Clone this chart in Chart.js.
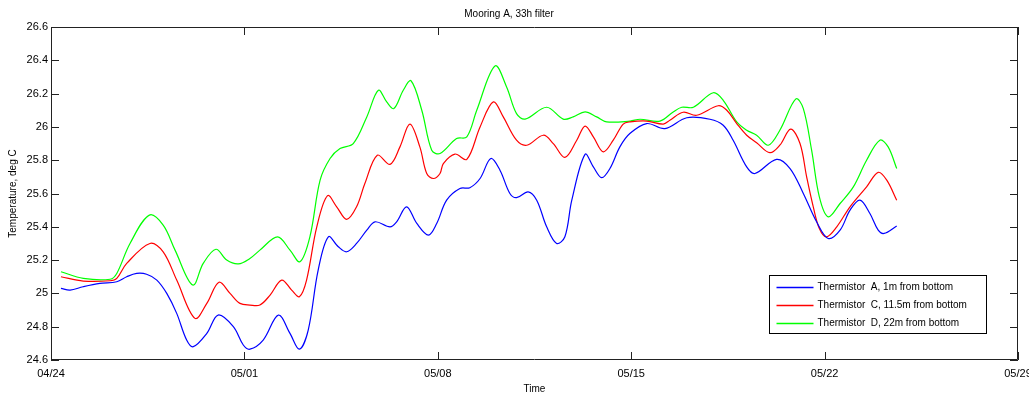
<!DOCTYPE html>
<html>
<head>
<meta charset="utf-8">
<script src="https://cdn.jsdelivr.net/npm/chart.js@4"></script>
<style>
  html, body { margin: 0; padding: 0; background: #fff; }
  #wrap { width: 1029px; height: 393px; }
</style>
</head>
<body>
<div id="wrap"><canvas id="tempChart" width="1029" height="393"></canvas></div>
<script>
// x values are days since 04/24
const tickLabels = ['04/24', '05/01', '05/08', '05/15', '05/22', '05/29'];

const blueDays = [0.36,0.69,1.16,1.77,2.38,2.74,3.10,3.46,3.83,4.19,4.55,4.91,5.15,5.64,6.05,6.60,6.96,7.20,7.68,8.23,8.65,8.99,9.31,9.67,10.04,10.40,10.70,11.06,11.43,11.73,12.27,12.51,12.87,13.24,13.66,13.96,14.32,14.80,15.16,15.53,15.92,16.25,16.61,16.85,17.27,17.58,17.94,18.30,18.60,18.85,19.33,19.63,19.93,20.23,20.59,20.95,21.56,22.22,23.01,23.85,24.33,24.69,25.18,25.48,26.26,26.75,27.23,27.71,28.13,28.56,28.92,29.28,29.64,29.94,30.15,30.61];
const blueTemps = [25.03,25.02,25.04,25.06,25.07,25.10,25.12,25.115,25.08,25.00,24.88,24.72,24.68,24.76,24.87,24.80,24.69,24.665,24.72,24.87,24.76,24.665,24.78,25.14,25.34,25.28,25.25,25.30,25.38,25.43,25.40,25.43,25.52,25.42,25.35,25.42,25.56,25.63,25.635,25.69,25.81,25.74,25.60,25.575,25.61,25.56,25.40,25.30,25.34,25.56,25.835,25.76,25.695,25.75,25.88,25.96,26.02,25.99,26.055,26.046,26.01,25.92,25.76,25.72,25.805,25.75,25.60,25.43,25.33,25.38,25.50,25.56,25.48,25.38,25.36,25.405];

const redDays = [0.36,1.17,2.14,2.38,2.74,3.58,4.06,4.55,5.21,5.64,6.08,6.48,6.84,7.20,7.56,7.93,8.35,8.71,8.99,9.25,9.62,10.01,10.34,10.70,11.06,11.36,11.81,12.27,12.63,12.99,13.35,13.60,13.84,14.08,14.20,14.62,15.05,15.53,16.01,16.37,16.85,17.22,17.82,18.18,18.60,19.03,19.33,19.63,19.99,20.35,20.71,20.96,21.56,22.16,22.40,22.88,23.37,24.15,24.46,24.82,25.18,25.54,26.02,26.38,26.77,27.11,27.35,27.59,27.81,28.07,28.44,28.92,29.52,29.94,30.25,30.61];
const redTemps = [25.10,25.074,25.076,25.09,25.18,25.30,25.25,25.08,24.85,24.94,25.067,25.00,24.94,24.93,24.93,24.99,25.08,25.02,24.98,25.08,25.40,25.587,25.52,25.445,25.52,25.66,25.83,25.775,25.88,26.017,25.88,25.72,25.69,25.72,25.78,25.837,25.805,26.00,26.15,26.06,25.92,25.89,25.95,25.90,25.817,25.92,26.005,25.94,25.85,25.92,26.017,26.03,26.035,26.017,26.04,26.088,26.07,26.127,26.10,26.02,25.95,25.905,25.845,25.89,25.987,25.90,25.70,25.52,25.39,25.34,25.40,25.52,25.64,25.727,25.68,25.56];

const greenDays = [0.36,1.17,2.14,2.38,2.86,3.56,4.06,4.49,5.13,5.51,5.97,6.36,6.78,7.20,7.56,8.20,8.65,9.01,9.37,9.74,10.10,10.46,10.94,11.43,11.85,12.15,12.41,12.75,13.03,13.42,13.78,14.08,14.68,15.05,15.41,16.07,16.49,16.85,17.16,17.94,18.54,18.90,19.33,19.75,20.11,20.96,21.32,22.04,22.52,22.83,23.25,23.97,24.33,24.82,25.18,25.54,25.96,26.38,26.96,27.23,27.53,27.81,28.13,28.56,29.04,29.52,30.00,30.30,30.61];
const greenTemps = [25.13,25.09,25.085,25.12,25.30,25.47,25.41,25.26,25.05,25.18,25.265,25.20,25.177,25.21,25.26,25.34,25.26,25.19,25.34,25.68,25.81,25.87,25.90,26.06,26.22,26.15,26.11,26.22,26.277,26.10,25.86,25.84,25.93,25.94,26.10,26.366,26.24,26.08,26.047,26.118,26.047,26.06,26.09,26.06,26.03,26.035,26.046,26.035,26.09,26.118,26.118,26.205,26.16,26.03,25.98,25.95,25.89,25.98,26.168,26.11,25.86,25.58,25.46,25.54,25.64,25.80,25.92,25.88,25.75];

const seriesNames = ['Thermistor  A, 1m from bottom', 'Thermistor  C, 11.5m from bottom', 'Thermistor  D, 22m from bottom'];
const seriesColors = ['#0000ff', '#ff0000', '#00ff00'];

function toPoints(xs, ys) {
    return xs.map((x, i) => ({ x: x, y: ys[i] }));
}

// MATLAB style box with inward ticks, plus the legend inside the axes
const boxPlugin = {
    id: 'boxPlugin',
    afterDatasetsDraw(chart) {
        const ctx = chart.ctx;
        const a = chart.chartArea;
        const xs = chart.scales.x;
        const ys = chart.scales.y;
        const len = 8;
        ctx.save();
        ctx.strokeStyle = '#222';
        ctx.lineWidth = 1;
        ctx.beginPath();
        ctx.rect(Math.round(a.left) + 0.5, Math.round(a.top) + 0.5,
                 Math.round(a.right - a.left) - 1, Math.round(a.bottom - a.top) - 1);
        xs.ticks.forEach(t => {
            const px = Math.round(xs.getPixelForValue(t.value)) + 0.5;
            ctx.moveTo(px, a.bottom); ctx.lineTo(px, a.bottom - len);
            ctx.moveTo(px, a.top); ctx.lineTo(px, a.top + len);
        });
        ys.ticks.forEach(t => {
            const py = Math.round(ys.getPixelForValue(t.value)) + 0.5;
            ctx.moveTo(a.left, py); ctx.lineTo(a.left + len, py);
            ctx.moveTo(a.right, py); ctx.lineTo(a.right - len, py);
        });
        ctx.stroke();

        // legend
        const lw = 217, lh = 58;
        const lx = Math.round(a.right - 32 - lw) + 0.5;
        const ly = Math.round(a.bottom - 27 - lh) + 0.5;
        ctx.fillStyle = '#fff';
        ctx.fillRect(lx, ly, lw, lh);
        ctx.strokeStyle = '#000';
        ctx.strokeRect(lx, ly, lw, lh);
        ctx.font = '10px "Liberation Sans", Arial, sans-serif';
        ctx.textBaseline = 'middle';
        ctx.textAlign = 'left';
        seriesNames.forEach((name, i) => {
            const yy = Math.round(ly + 11 + i * 18) + 0.5;
            ctx.beginPath();
            ctx.strokeStyle = seriesColors[i];
            ctx.lineWidth = 1.5;
            ctx.moveTo(lx + 7, yy);
            ctx.lineTo(lx + 44, yy);
            ctx.stroke();
            ctx.fillStyle = '#000';
            ctx.fillText(name, lx + 48, yy);
        });
        ctx.restore();
    }
};

Chart.defaults.color = '#000';
Chart.defaults.font.family = '"Liberation Sans", Arial, sans-serif';

new Chart(document.getElementById('tempChart').getContext('2d'), {
    type: 'line',
    data: {
        datasets: [
            { label: seriesNames[0], data: toPoints(blueDays, blueTemps), borderColor: seriesColors[0] },
            { label: seriesNames[1], data: toPoints(redDays, redTemps), borderColor: seriesColors[1] },
            { label: seriesNames[2], data: toPoints(greenDays, greenTemps), borderColor: seriesColors[2] }
        ]
    },
    options: {
        responsive: false,
        animation: false,
        layout: { padding: { left: 0, right: 11, top: 0, bottom: 0 } },
        elements: {
            line: { borderWidth: 1.2, tension: 0.35, fill: false },
            point: { radius: 0 }
        },
        plugins: {
            legend: { display: false },
            tooltip: { enabled: false },
            title: {
                display: true,
                text: 'Mooring A, 33h filter',
                font: { size: 10, weight: 'normal' },
                padding: { top: 8, bottom: 7 }
            }
        },
        scales: {
            x: {
                type: 'linear',
                min: 0,
                max: 35,
                grid: { display: false, drawTicks: false },
                border: { display: false },
                ticks: {
                    stepSize: 7,
                    autoSkip: false,
                    maxRotation: 0,
                    padding: 7,
                    font: { size: 11 },
                    callback: v => tickLabels[Math.round(v / 7)]
                },
                title: { display: true, text: 'Time', font: { size: 10 }, padding: { top: -2, bottom: -2 } },
                afterFit(scale) {
                    scale.height = 33;
                    scale.paddingLeft = 0;
                    scale.paddingRight = 0;
                }
            },
            y: {
                min: 24.6,
                max: 26.6,
                grid: { display: false, drawTicks: false },
                border: { display: false },
                ticks: {
                    stepSize: 0.2,
                    padding: 3,
                    font: { size: 11 },
                    callback: v => String(Math.round(v * 10) / 10)
                },
                title: { display: true, text: 'Temperature, deg C', font: { size: 10 }, padding: { top: 7, bottom: 7 } },
                afterFit(scale) {
                    scale.width = 51;
                    scale.paddingTop = 0;
                    scale.paddingBottom = 0;
                }
            }
        }
    },
    plugins: [boxPlugin]
});
</script>
</body>
</html>
